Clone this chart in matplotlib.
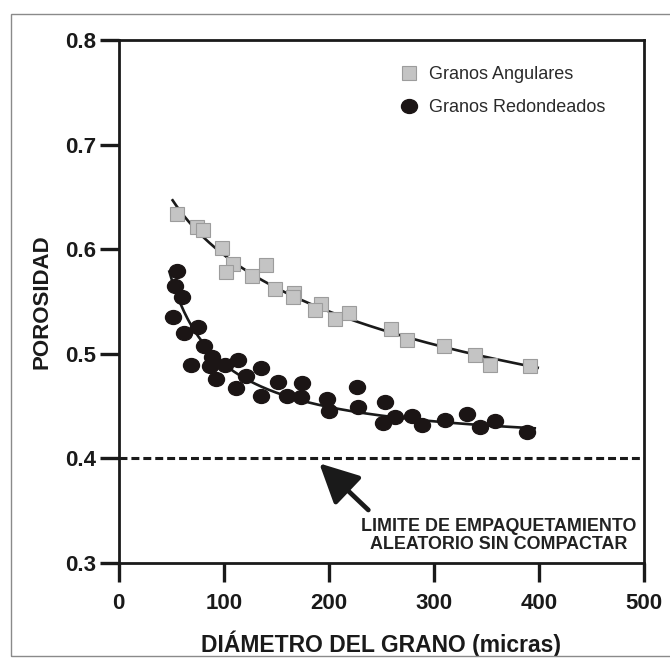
import numpy as np
import matplotlib
matplotlib.use('Agg')
from matplotlib import pyplot as plt
from matplotlib.patches import Rectangle
from matplotlib.path import Path
from matplotlib.transforms import Affine2D

# Granos angulares (cuadrados grises)
ang_x = [55.2, 74.2, 79.9, 98.3, 109.1, 102.1, 126.6, 140.3, 149.2, 166.8, 165.6,
         192.3, 187.1, 206.2, 219.5, 258.9, 274.2, 309.6, 339.5, 353.6, 391.8]
ang_y = [0.634, 0.621, 0.618, 0.601, 0.586, 0.578, 0.574, 0.585, 0.562, 0.558, 0.554,
         0.548, 0.542, 0.533, 0.539, 0.524, 0.513, 0.507, 0.499, 0.489, 0.488]

# Granos redondeados (circulos negros)
red_x = [55.2, 53.6, 60.0, 51.4, 62.2, 75.8, 81.2, 88.5, 68.5, 86.9, 92.6, 101.2,
         113.8, 111.7, 121.2, 135.0, 135.0, 151.3, 160.5, 174.5, 173.5, 198.0, 200.5,
         226.5, 227.6, 253.5, 251.9, 263.0, 278.9, 288.4, 310.6, 331.2, 343.5, 358.2,
         388.4]
red_y = [0.579, 0.565, 0.554, 0.535, 0.520, 0.526, 0.507, 0.497, 0.489, 0.488, 0.476,
         0.489, 0.494, 0.467, 0.479, 0.486, 0.460, 0.473, 0.460, 0.472, 0.459, 0.457,
         0.445, 0.468, 0.449, 0.454, 0.434, 0.440, 0.441, 0.432, 0.437, 0.442, 0.430,
         0.436, 0.425]

limite = 0.4
xticks = [0, 100, 200, 300, 400, 500]
yticks = [0.3, 0.4, 0.5, 0.6, 0.7, 0.8]

plt.rcParams['font.family'] = ['Liberation Sans', 'DejaVu Sans']
negro = '#1a1a1a'

fig = plt.figure(figsize=(6.7, 6.62), dpi=100)
ax = fig.add_axes([0.1772, 0.1495, 0.784, 0.7901])

# marco gris alrededor de la figura
fig.patches.append(Rectangle((10.5 / 670, 6 / 662), 1.2, 642 / 662, transform=fig.transFigure,
                             fill=False, edgecolor='#8a8a8a', lw=1.0))

# curvas de ajuste
ang_fit = np.polyfit(np.log(ang_x), ang_y, 1)
xs = np.linspace(51.3, 398.8, 200)
ax.plot(xs, np.polyval(ang_fit, np.log(xs)), color=negro, lw=1.9, zorder=2)

# ajuste 1/x (regresion de 1/x sobre la porosidad)
c1, c0 = np.polyfit(red_y, 1.0 / np.array(red_x), 1)
xs2 = np.linspace(48.2, 396, 200)
ax.plot(xs2, (1.0 / xs2 - c0) / c1, color=negro, lw=1.9, zorder=2)

# marcador eliptico para los granos redondeados
elipse = Path.unit_circle().transformed(Affine2D().scale(1.15, 1.0))

ax.plot(ang_x, ang_y, linestyle='none', marker='s', markersize=10.5,
        markerfacecolor='#c4c4c4', markeredgecolor='#9c9c9c', markeredgewidth=0.8,
        label='Granos Angulares', zorder=3)
ax.plot(red_x, red_y, linestyle='none', marker=elipse, markersize=11.5,
        markerfacecolor='#1b1515', markeredgecolor='#1b1515',
        label='Granos Redondeados', zorder=3)

# limite de empaquetamiento
ax.axhline(limite, color=negro, lw=2.2, linestyle=(0, (2.6, 1.3)), zorder=2)
ax.annotate('', xy=(190.9, 0.3953), xytext=(237.6, 0.3507),
            arrowprops=dict(arrowstyle='-|>,head_length=1.2,head_width=0.6',
                            mutation_scale=20, lw=3.4, color=negro,
                            shrinkA=0, shrinkB=0))
ax.text(362, 0.3263, 'LIMITE DE EMPAQUETAMIENTO\nALEATORIO SIN COMPACTAR',
        ha='center', va='center', fontsize=12.9, fontweight='bold',
        color='#222222', linespacing=1.05)

ax.set_xlim(0, 500)
ax.set_ylim(0.3, 0.8)
ax.set_xticks(xticks)
ax.set_yticks(yticks)
ax.set_xticklabels([str(t) for t in xticks])
ax.set_yticklabels(['%.1f' % t for t in yticks])

for s in ax.spines.values():
    s.set_linewidth(2.0)
    s.set_color(negro)
ax.tick_params(axis='both', direction='out', length=13.5, width=2.4, color=negro,
               labelsize=16, labelcolor=negro)
ax.tick_params(axis='x', pad=8)
ax.tick_params(axis='y', pad=3)
for lab in ax.get_xticklabels() + ax.get_yticklabels():
    lab.set_fontweight('bold')

ax.set_xlabel('DIÁMETRO DEL GRANO (micras)', fontsize=16.5, fontweight='bold',
              color=negro, labelpad=12)
ax.set_ylabel('POROSIDAD', fontsize=16, fontweight='bold', color=negro, labelpad=9)

leg = ax.legend(loc='upper left', bbox_to_anchor=(0.5355, 0.950), frameon=False,
                fontsize=13, handlelength=1.0, handletextpad=0.6, labelspacing=0.88,
                borderpad=0, borderaxespad=0, numpoints=1)
for t in leg.get_texts():
    t.set_color('#2a2a2a')

fig.savefig('out.png', dpi=100)
